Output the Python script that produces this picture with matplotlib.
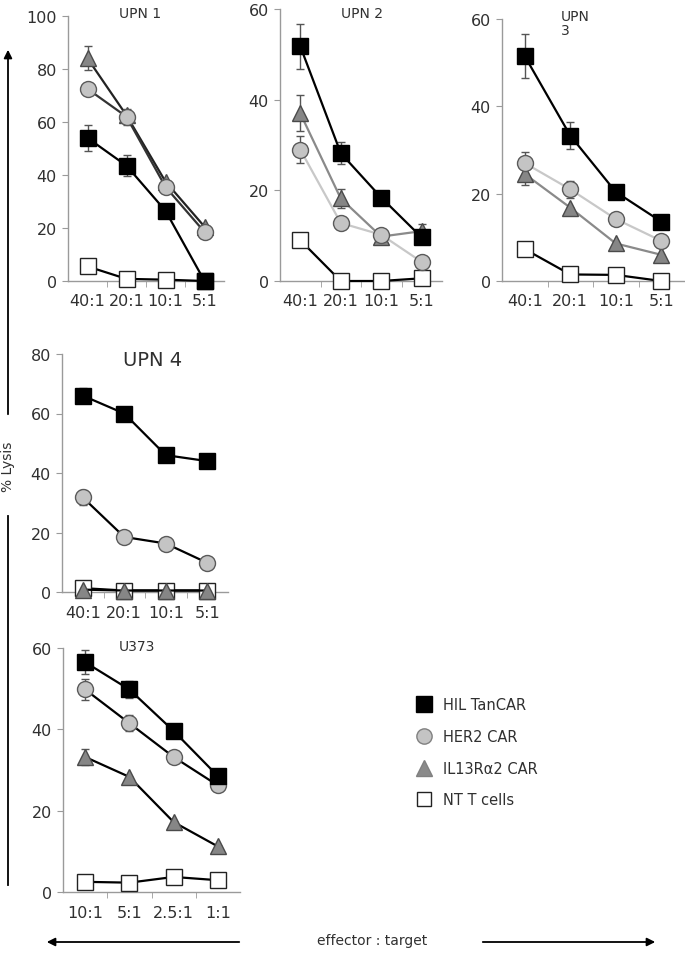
import numpy as np
import matplotlib
matplotlib.use('Agg')
from matplotlib import pyplot as plt
from matplotlib.lines import Line2D
from matplotlib.patches import FancyArrowPatch

# ratios
ratios_upn = ['40:1', '20:1', '10:1', '5:1']
ratios_u373 = ['10:1', '5:1', '2.5:1', '1:1']

series_names = ['HIL TanCAR', 'HER2 CAR', 'IL13R\u03b12 CAR', 'NT T cells']

# % lysis per panel: [tancar, her2, il13, nt]
upn1_vals = [[54, 43.5, 26.5, 0], [72.5, 62, 35.5, 18.5], [84, 62.5, 37.5, 20.5], [5.5, 0.8, 0.5, 0]]
upn1_err = [[5, 4, 0, 0], [0, 3, 0, 0], [4.5, 0, 0, 0], [0, 0, 0, 0]]
upn2_vals = [[51.8, 28.2, 18.4, 9.6], [29, 12.8, 10.2, 4.2], [37, 18.2, 9.8, 11], [9, 0, 0, 0.6]]
upn2_err = [[5, 2.5, 0, 0], [3, 0, 0, 0], [4, 2, 0, 1.5], [0, 0, 0, 0]]
upn3_vals = [[51.5, 33.3, 20.4, 13.6], [27, 21, 14.2, 9.2], [24.5, 16.8, 8.6, 6], [7.3, 1.5, 1.4, 0]]
upn3_err = [[5, 3, 0, 0], [2.5, 2, 0, 0], [2.5, 0, 0, 0], [0, 0, 0, 0]]
upn4_vals = [[66, 60, 46, 44], [31.8, 18.5, 16.3, 9.8], [0.8, 0.5, 0.5, 0.5], [1.3, 0.5, 0.5, 0.5]]
upn4_err = [[2.5, 1.5, 0, 0], [2.5, 0, 0, 0], [0, 0, 0, 0], [0, 0, 0, 0]]
u373_vals = [[56.5, 49.8, 39.6, 28.5], [49.8, 41.5, 33.2, 26.2], [33.2, 28.3, 17.2, 11.2], [2.5, 2.3, 3.7, 2.9]]
u373_err = [[3, 2.2, 0, 0], [2.5, 2, 0, 0], [2, 0, 0, 0], [0, 0, 0, 0]]

markers = ['s', 'o', '^', 's']
faces = ['black', '#c4c4c4', '#868686', 'white']
edges = ['black', '#5a5a5a', '#4a4a4a', '#222222']
msizes = [11.5, 11.5, 11.5, 11]

axcol = '#9a9a9a'
txtcol = '#303030'

fig = plt.figure(figsize=(6.85, 9.54), dpi=100)
W, H = 685.0, 954.0


def box(x0, x1, ytop, ybot):
    return [x0 / W, 1 - ybot / H, (x1 - x0) / W, (ybot - ytop) / H]


def panel(rect, vals, errs, labels, ymax, linecols):
    ax = fig.add_axes(rect)
    x = np.arange(len(labels))
    for i in range(4):
        ax.errorbar(x, vals[i], yerr=errs[i], color=linecols[i], lw=1.6,
                    marker=markers[i], ms=msizes[i], mfc=faces[i], mec=edges[i],
                    mew=1.0, ecolor='#555555', elinewidth=1.0, capsize=3, capthick=1.0,
                    zorder=3 + (3 - i) * 0.1, clip_on=False)
    ax.set_xlim(-0.5, len(labels) - 0.5)
    ax.set_ylim(0, ymax)
    ax.set_yticks(np.arange(0, ymax + 1, 20))
    ax.set_xticks(x)
    ax.set_xticklabels(labels)
    ax.set_xticks(np.arange(0.5, len(labels) - 0.5, 1), minor=True)
    ax.tick_params(axis='x', which='major', length=0, pad=9, labelsize=11.5, colors=txtcol)
    ax.tick_params(axis='x', which='minor', length=4, color=axcol, direction='out')
    ax.tick_params(axis='y', length=4, color=axcol, labelsize=11.5, colors=txtcol, pad=4)
    for s in ['top', 'right']:
        ax.spines[s].set_visible(False)
    for s in ['left', 'bottom']:
        ax.spines[s].set_color(axcol)
        ax.spines[s].set_linewidth(1.0)
    ax.patch.set_alpha(0)
    return ax


blk = ['black', 'black', 'black', 'black']
ax1 = panel(box(68, 224, 17, 282), upn1_vals, upn1_err, ratios_upn, 100, ['black', '#333333', '#222222', 'black'])
fig.text(140 / W, 1 - 14 / H, 'UPN 1', ha='center', va='center', fontsize=10, color=txtcol)

ax2 = panel(box(280, 442, 10, 282), upn2_vals, upn2_err, ratios_upn, 60, ['black', '#c8c8c8', '#8a8a8a', 'black'])
fig.text(362 / W, 1 - 14 / H, 'UPN 2', ha='center', va='center', fontsize=10, color=txtcol)

ax3 = panel(box(502, 684, 20, 282), upn3_vals, upn3_err, ratios_upn, 60, ['black', '#c8c8c8', '#8a8a8a', 'black'])
fig.text(561 / W, 1 - 24 / H, 'UPN\n3', ha='left', va='center', fontsize=10, color=txtcol, linespacing=1.0)

ax4 = panel(box(62, 228, 355, 593), upn4_vals, upn4_err, ratios_upn, 80, blk)
fig.text(153 / W, 1 - 360 / H, 'UPN 4', ha='center', va='center', fontsize=14, color=txtcol)

ax5 = panel(box(63, 240, 649, 893), u373_vals, u373_err, ratios_u373, 60, blk)
fig.text(137 / W, 1 - 647 / H, 'U373', ha='center', va='center', fontsize=10, color=txtcol)

# legend
handles = [Line2D([], [], ls='none', marker=markers[i], ms=msizes[i] - 0.5, mfc=faces[i],
                  mec=edges[i], mew=1.0) for i in range(4)]
handles[1].set_markeredgecolor('#808080')
handles[2].set_markeredgecolor('#808080')
handles[2].set_markerfacecolor('#8a8a8a')
fig.legend(handles, series_names, loc='upper left', bbox_to_anchor=(402 / W, 1 - 685 / H),
           frameon=False, fontsize=10.5, labelspacing=1.15, handlelength=1.2,
           handletextpad=0.7, labelcolor=txtcol)

# big arrows
arr = dict(arrowstyle='-|>', color='black', lw=1.3, mutation_scale=12)
fig.add_artist(FancyArrowPatch((8 / W, 1 - 418 / H), (8 / W, 1 - 48 / H),
                               transform=fig.transFigure, **arr))
fig.add_artist(Line2D([8 / W, 8 / W], [1 - 517 / H, 1 - 886 / H], transform=fig.transFigure,
                      color='black', lw=1.3))
fig.text(8 / W, 1 - 467 / H, '% Lysis', rotation=90, ha='center', va='center',
         fontsize=10, color=txtcol)
fig.add_artist(FancyArrowPatch((242 / W, 1 - 943 / H), (44 / W, 1 - 943 / H),
                               transform=fig.transFigure, **arr))
fig.add_artist(FancyArrowPatch((480 / W, 1 - 943 / H), (658 / W, 1 - 943 / H),
                               transform=fig.transFigure, **arr))
fig.text(372 / W, 1 - 941 / H, 'effector : target', ha='center', va='center',
         fontsize=10, color=txtcol)

fig.savefig('out.png', dpi=100)
